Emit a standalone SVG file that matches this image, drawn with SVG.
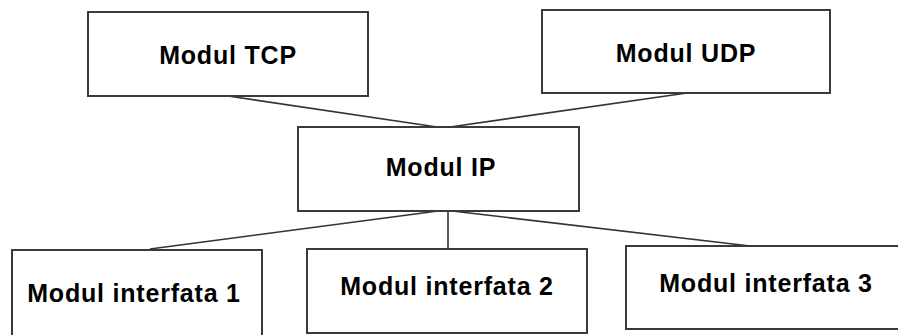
<svg xmlns="http://www.w3.org/2000/svg" width="898" height="335" viewBox="0 0 898 335">
<style>
.box{fill:#fff;stroke:#3a3a3a;stroke-width:2}
.lbl{font-family:"Liberation Sans",Arial,sans-serif;font-weight:bold;font-size:25px;letter-spacing:0.8px;fill:#000;text-anchor:middle}
.conn{stroke:#333;stroke-width:1.6;fill:none}
</style>
<rect width="898" height="335" fill="#fff"/>
<g id="connectors">
<line class="conn" x1="228" y1="96" x2="437" y2="127"/>
<line class="conn" x1="687" y1="93" x2="450" y2="127"/>
<line class="conn" x1="438" y1="211" x2="150" y2="249"/>
<line class="conn" x1="448" y1="211" x2="448" y2="249"/>
<line class="conn" x1="452" y1="211" x2="750" y2="246"/>
</g>
<g id="tcp">
<rect class="box" x="88" y="12" width="280" height="84"/>
<text class="lbl" x="228" y="64">Modul TCP</text>
</g>
<g id="udp">
<rect class="box" x="542" y="10" width="288" height="83"/>
<text class="lbl" x="686" y="62">Modul UDP</text>
</g>
<g id="ip">
<rect class="box" x="298" y="127" width="281" height="84"/>
<text class="lbl" x="441" y="176">Modul IP</text>
</g>
<g id="if1">
<rect class="box" x="12" y="250" width="250" height="95"/>
<text class="lbl" x="134" y="302">Modul interfata 1</text>
</g>
<g id="if2">
<rect class="box" x="307" y="249" width="280" height="84"/>
<text class="lbl" x="447" y="295">Modul interfata 2</text>
</g>
<g id="if3">
<rect class="box" x="626" y="246" width="280" height="83"/>
<text class="lbl" x="766" y="292">Modul interfata 3</text>
</g>
</svg>
